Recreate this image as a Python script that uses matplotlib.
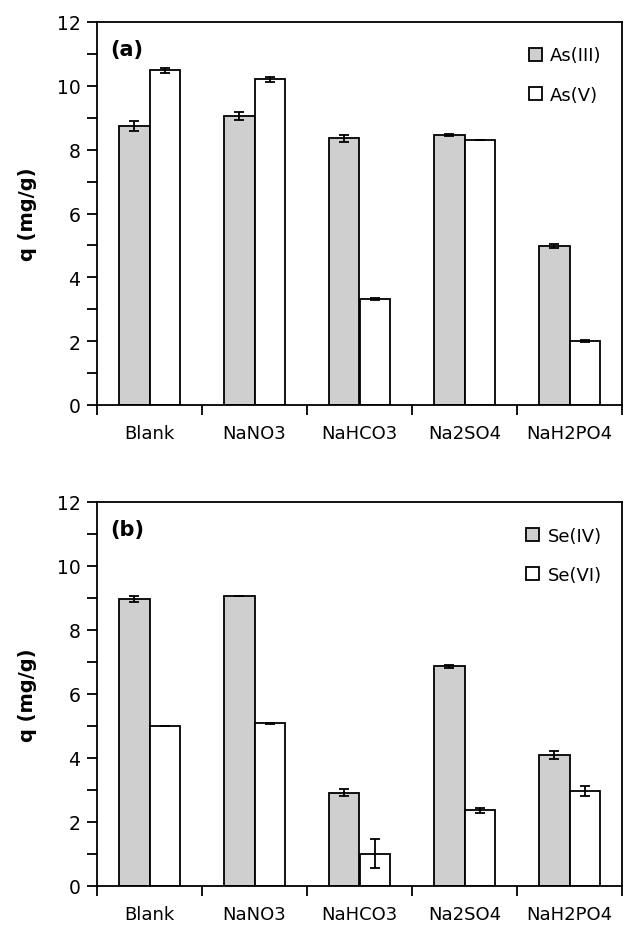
import matplotlib
matplotlib.use("Agg")
import matplotlib.pyplot as plt
import numpy as np
from matplotlib.ticker import MultipleLocator, FixedLocator

categories = ["Blank", "NaNO3", "NaHCO3", "Na2SO4", "NaH2PO4"]

as3 = [8.74, 9.05, 8.35, 8.46, 4.98]
as3_err = [0.15, 0.12, 0.10, 0.03, 0.05]
as5 = [10.49, 10.20, 3.33, 8.30, 2.00]
as5_err = [0.08, 0.08, 0.03, 0.0, 0.03]

se4 = [8.97, 9.06, 2.92, 6.87, 4.10]
se4_err = [0.08, 0.0, 0.10, 0.05, 0.13]
se6 = [4.99, 5.08, 1.01, 2.37, 2.97]
se6_err = [0.0, 0.02, 0.45, 0.08, 0.17]

panels = [
    ("(a)", "As(III)", "As(V)", as3, as3_err, as5, as5_err),
    ("(b)", "Se(IV)", "Se(VI)", se4, se4_err, se6, se6_err),
]

W, H = 625, 929
fig = plt.figure(figsize=(W/100, H/100), dpi=100)
ax_rects = [
    [97/W, 1-406/H, (622-97)/W, (406-23)/H],
    [97/W, 1-887/H, (622-97)/W, (887-503)/H],
]

gray = "#cfcfcf"
bw = 0.29
x = np.arange(len(categories))

for rect, (tag, l1, l2, v1, e1, v2, e2) in zip(ax_rects, panels):
    ax = fig.add_axes(rect)
    ax.bar(x - bw/2, v1, bw, color=gray, edgecolor="black", linewidth=1.3,
           label=l1, zorder=2)
    ax.bar(x + bw/2, v2, bw, color="white", edgecolor="black", linewidth=1.3,
           label=l2, zorder=2)
    ax.errorbar(x - bw/2, v1, yerr=e1, fmt="none", ecolor="black",
                elinewidth=1.3, capsize=3.5, capthick=1.3, zorder=3)
    ax.errorbar(x + bw/2, v2, yerr=e2, fmt="none", ecolor="black",
                elinewidth=1.3, capsize=3.5, capthick=1.3, zorder=3)
    ax.set_xlim(-0.5, len(categories) - 0.5)
    ax.set_ylim(0, 12)
    ax.yaxis.set_major_locator(MultipleLocator(2))
    ax.yaxis.set_minor_locator(MultipleLocator(1))
    ax.set_xticks(x)
    ax.set_xticklabels(categories, fontsize=13)
    ax.xaxis.set_minor_locator(FixedLocator(np.arange(-0.5, len(categories), 0.5)))
    ax.tick_params(axis="x", which="major", length=0, pad=14)
    ax.tick_params(axis="x", which="minor", length=7, width=1.3, direction="out")
    ax.tick_params(axis="y", which="major", length=7, width=1.3, labelsize=13.5,
                   direction="out", pad=5)
    ax.tick_params(axis="y", which="minor", length=7, width=1.3, direction="out")
    for s in ax.spines.values():
        s.set_linewidth(1.3)
    ax.set_ylabel("q (mg/g)", fontsize=14, fontweight="bold", labelpad=14)
    ax.text(0.025, 0.955, tag, transform=ax.transAxes, fontsize=15,
            fontweight="bold", va="top", ha="left")
    ax.legend(loc="upper right", frameon=False, fontsize=13,
              handlelength=0.72, handleheight=0.72, handletextpad=0.45,
              labelspacing=1.2, borderaxespad=0.0,
              bbox_to_anchor=(0.975, 0.955))

fig.savefig("out.png", dpi=100)
